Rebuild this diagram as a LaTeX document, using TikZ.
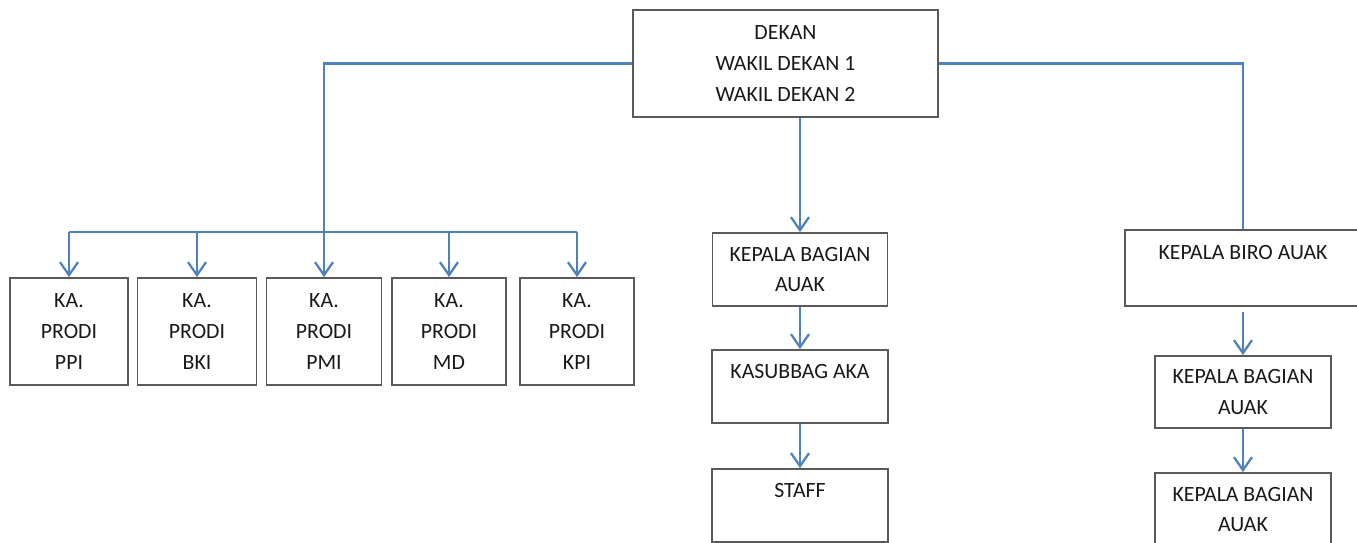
\documentclass[tikz,border=0pt]{standalone}
\usepackage{xcolor}
\usepackage{fontspec}
\setmainfont{Carlito}
\usepackage{tikz}
\usetikzlibrary{arrows.meta}

\definecolor{linkblue}{HTML}{4F81BD}
\definecolor{rimgray}{HTML}{5A5A5A}

\tikzset{
    unit/.style={rectangle, draw=rimgray, line width=1pt, align=center, inner sep=0pt,
        text=black!90, font=\fontsize{12.4}{17.6}\selectfont},
    link/.style={draw=linkblue, line width=1.3pt},
    pointer/.style={link, -{Straight Barb[length=2.6mm,width=3.6mm]}}
}

\begin{document}
\begin{tikzpicture}[x=0.02cm, y=-0.02cm]
    \useasboundingbox (0,0) rectangle (1357,542);
    \clip (0,0) rectangle (1357,542);

    % Pimpinan
    \node[unit, minimum width=6.1cm, minimum height=2.14cm] (dekan) at (785.5,63.5) {DEKAN\\WAKIL DEKAN 1\\WAKIL DEKAN 2};

    % Prodi
    \node[unit, minimum width=2.36cm, minimum height=2.14cm] (ppi) at (69,331.5) {KA.\\PRODI\\PPI};
    \node[unit, minimum width=2.38cm, minimum height=2.14cm] (bki) at (197,331.5) {KA.\\PRODI\\BKI};
    \node[unit, minimum width=2.3cm, minimum height=2.14cm] (pmi) at (324,331.5) {KA.\\PRODI\\PMI};
    \node[unit, minimum width=2.28cm, minimum height=2.14cm] (md) at (449,331.5) {KA.\\PRODI\\MD};
    \node[unit, minimum width=2.28cm, minimum height=2.14cm] (kpi) at (577,331.5) {KA.\\PRODI\\KPI};

    % Bagian tengah
    \node[unit, minimum width=3.5cm, minimum height=1.46cm] (kbauak) at (800,269.5) {KEPALA BAGIAN\\AUAK};
    \node[unit, minimum width=3.52cm, minimum height=1.46cm] (kasubbag) at (800,386.5) {KASUBBAG AKA\\\mbox{}};
    \node[unit, minimum width=3.52cm, minimum height=1.46cm] (staff) at (800,505.5) {STAFF\\\mbox{}};

    % Biro
    \node[unit, minimum width=4.72cm, minimum height=1.52cm] (biro) at (1243,268) {KEPALA BIRO AUAK\\\mbox{}};
    \node[unit, minimum width=3.52cm, minimum height=1.44cm] (kbbiro) at (1243,392) {KEPALA BAGIAN\\AUAK};
    \node[unit, minimum width=3.52cm, minimum height=1.46cm] (kbbiro2) at (1243,509.5) {KEPALA BAGIAN\\AUAK};

    % Garis
    \coordinate (bar) at (0,232);
    \draw[pointer] (dekan.west) -| (pmi.north);
    \draw[link] (ppi.north |- bar) -- (kpi.north |- bar);
    \foreach \p in {ppi, bki, md, kpi} {
        \draw[pointer] (\p.north |- bar) -- (\p.north);
    }
    \draw[pointer] (kbauak.north |- dekan.south) -- (kbauak.north);
    \draw[pointer] (kbauak) -- (kasubbag);
    \draw[pointer] (kasubbag) -- (staff);
    \draw[link] (dekan.east) -| (biro.north);
    \draw[pointer] ([yshift=-3pt]biro.south) -- (kbbiro.north);
    \draw[pointer] (kbbiro) -- (kbbiro2);
\end{tikzpicture}
\end{document}
